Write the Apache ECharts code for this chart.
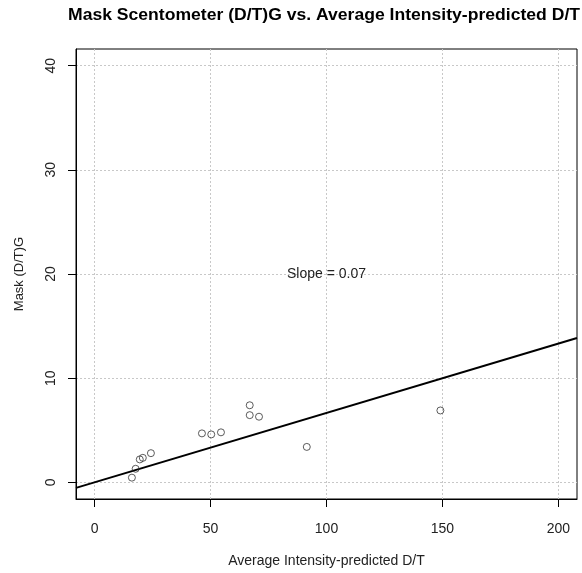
<!DOCTYPE html>
<html><head><meta charset="utf-8">
<script src="https://cdn.jsdelivr.net/npm/echarts@6/dist/echarts.min.js"></script>
<style>html,body{margin:0;padding:0;background:#fff}#c{width:582px;height:573px}</style>
</head><body><div id="c"></div>
<script>
var xValues = [16.1, 17.7, 19.5, 20.8, 24.3, 46.3, 50.3, 54.5, 66.9, 66.9, 70.9, 91.5, 149.1];
var yValues = [0.45, 1.3, 2.2, 2.35, 2.8, 4.7, 4.6, 4.8, 7.4, 6.45, 6.3, 3.4, 6.9];
var xTicks = [0, 50, 100, 150, 200];
var yTicks = [0, 10, 20, 30, 40];
var fitSlope = 0.0666;
var fitIntercept = 0;
var slopeLabel = 'Slope = 0.07';
var titleText = 'Mask Scentometer (D/T)G vs. Average Intensity-predicted D/T';

var xMin = -8, xMax = 208, yMin = -1.6, yMax = 41.6;
var points = xValues.map(function (x, i) { return [x, yValues[i]]; });
var fitLine = [[xMin, fitIntercept + fitSlope * xMin], [xMax, fitIntercept + fitSlope * xMax]];
var font = 'Liberation Sans, Arial, sans-serif';

// measure title to stretch it to the reference width
var cv = document.createElement('canvas').getContext('2d');
cv.font = 'bold 17px Liberation Sans, Arial, sans-serif';
var tw = cv.measureText(titleText).width;
var titleScale = 512 / tw;

var chart = echarts.init(document.getElementById('c'));
chart.setOption({
  animation: false,
  grid: { left: 76, right: 5, top: 49, bottom: 74, show: true, borderColor: '#000', borderWidth: 1, backgroundColor: 'transparent' },
  xAxis: {
    type: 'value', min: xMin, max: xMax,
    name: 'Average Intensity-predicted D/T', nameLocation: 'middle', nameGap: 55,
    nameTextStyle: { fontFamily: font, fontSize: 14, color: '#222' },
    axisLine: { show: true, onZero: false, lineStyle: { color: '#000' } },
    axisTick: { show: true, length: 8, customValues: xTicks, lineStyle: { color: '#000' } },
    axisLabel: { customValues: xTicks, margin: 23, fontFamily: font, fontSize: 14, color: '#222' },
    splitLine: { show: true, lineStyle: { color: '#c8c8c8', type: [2, 2], width: 1 } }
  },
  yAxis: {
    type: 'value', min: yMin, max: yMax,
    name: 'Mask (D/T)G', nameLocation: 'middle', nameGap: 50, nameRotate: 90,
    nameTextStyle: { fontFamily: font, fontSize: 13, color: '#222' },
    axisLine: { show: true, onZero: false, lineStyle: { color: '#000' } },
    axisTick: { show: true, length: 8, customValues: yTicks, lineStyle: { color: '#000' } },
    axisLabel: { customValues: yTicks, rotate: 90, margin: 18, fontFamily: font, fontSize: 14, color: '#222' },
    splitLine: { show: true, lineStyle: { color: '#c8c8c8', type: [2, 2], width: 1 } }
  },
  series: [
    {
      type: 'line', data: fitLine, symbol: 'none', clip: true,
      lineStyle: { color: '#000', width: 2 }, silent: true, z: 2
    },
    {
      type: 'scatter', data: points, symbol: 'circle', symbolSize: 7,
      itemStyle: { color: 'rgba(255,255,255,0)', borderColor: '#333', borderWidth: 1 }, z: 3
    }
  ]
});
var p = chart.convertToPixel({ gridIndex: 0 }, [100, 20]);
chart.setOption({
  graphic: [
    {
      type: 'text', x: p[0], y: p[1],
      style: { text: slopeLabel, fontFamily: font, fontSize: 14, fill: '#222', align: 'center', verticalAlign: 'middle' }
    },
    {
      type: 'text', x: 324, y: 15, scaleX: titleScale, scaleY: 1,
      style: { text: titleText, fontFamily: font, fontSize: 17, fontWeight: 'bold', fill: '#000', align: 'center', verticalAlign: 'middle' }
    }
  ]
});
</script></body></html>
